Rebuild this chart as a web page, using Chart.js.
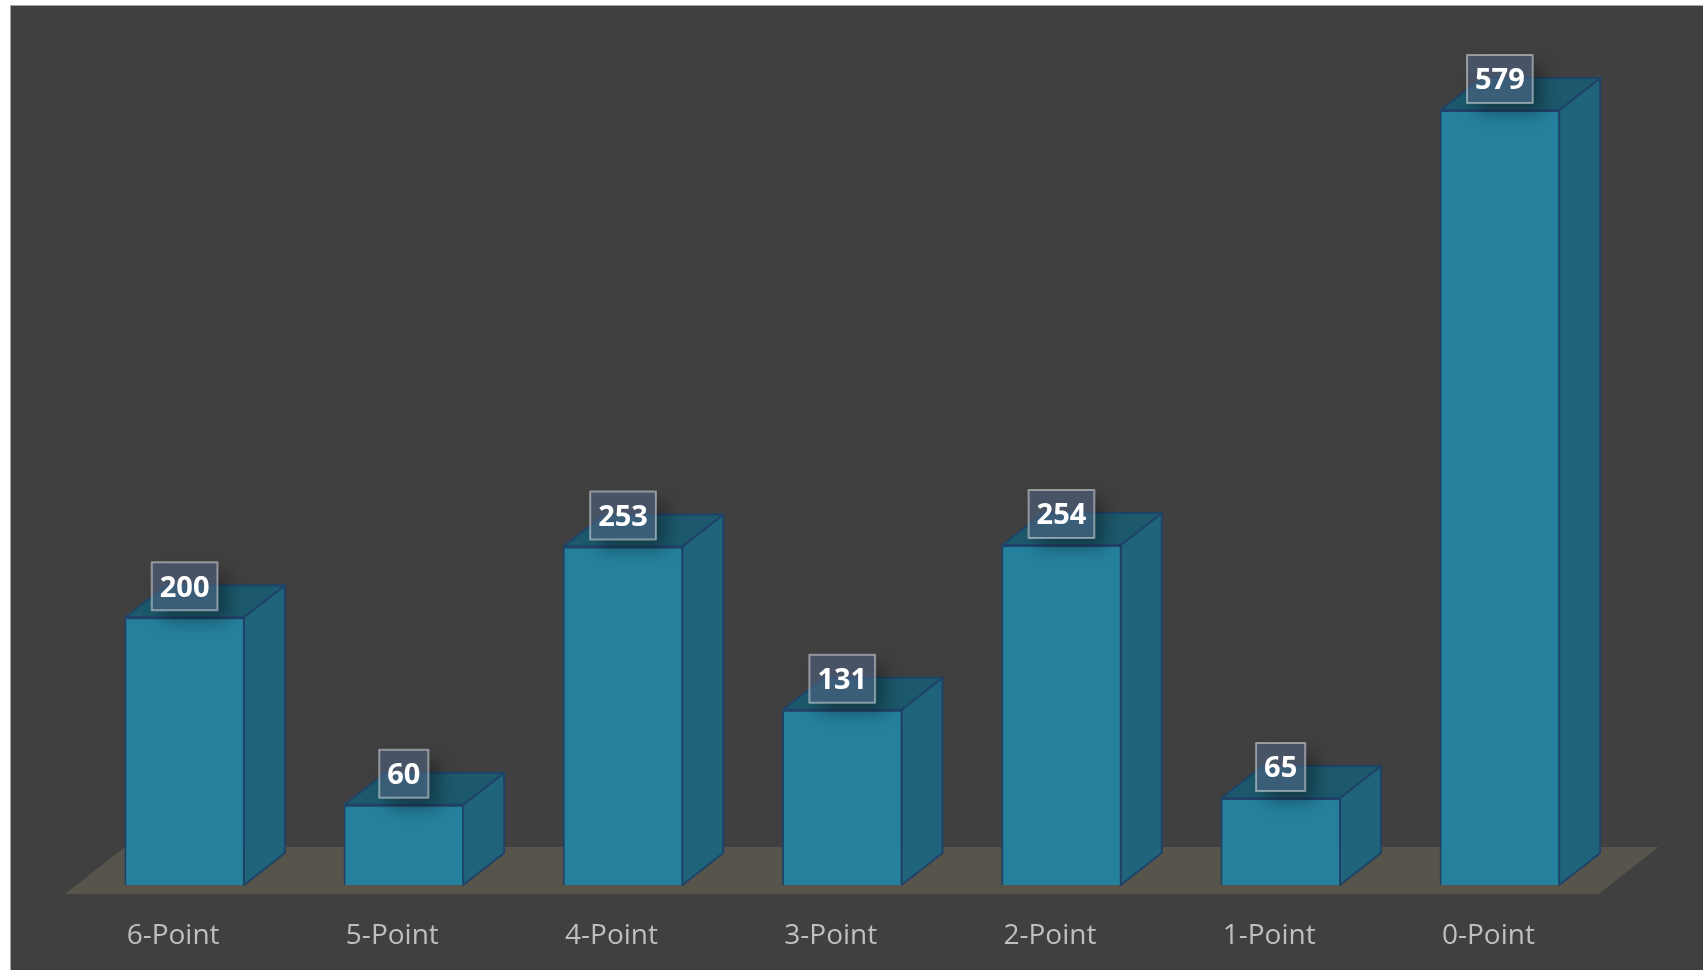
<!DOCTYPE html>
<html>
<head>
<meta charset="utf-8">
<title>Points chart</title>
<script src="https://cdn.jsdelivr.net/npm/chart.js@4"></script>
<style>
  html, body { margin: 0; padding: 0; background: #fff; overflow: hidden; }
  #panel { position: absolute; left: 10px; top: 5px; right: 0; bottom: 0; background: #404040;
           border-left: 1px solid #a6a6a6; border-top: 1px solid #a6a6a6; }
  #chart { position: absolute; left: 0; top: 0; }
</style>
</head>
<body>
<div id="panel"></div>
<canvas id="chart" width="1703" height="970"></canvas>
<script>
const categories = ['6-Point', '5-Point', '4-Point', '3-Point', '2-Point', '1-Point', '0-Point'];
const values = [200, 60, 253, 131, 254, 65, 579];

const DEPTH_X = 41;
const DEPTH_Y = 32;
const EDGE = '#1f4368';

function poly(ctx, pts, fill, stroke) {
    ctx.beginPath();
    pts.forEach((p, i) => i ? ctx.lineTo(p[0], p[1]) : ctx.moveTo(p[0], p[1]));
    ctx.closePath();
    ctx.fillStyle = fill;
    ctx.fill();
    if (stroke) {
        ctx.strokeStyle = stroke;
        ctx.lineWidth = 2;
        ctx.lineJoin = 'round';
        ctx.stroke();
    }
}

// floor and the top/right faces go in behind the library's bars
const boxes = {
    id: 'boxes',
    beforeDatasetsDraw(chart) {
        const ctx = chart.ctx;
        const zero = chart.scales.y.getPixelForValue(0);
        const left = chart.chartArea.left;
        const right = chart.chartArea.right;

        // floor
        poly(ctx, [[left - 10, zero + 9], [left + 50, zero - 38], [right + 49, zero - 38], [right - 11, zero + 9]], '#57544c');

        chart.getDatasetMeta(0).data.forEach(bar => {
            const x1 = bar.x - bar.width / 2 + 1;
            const x2 = bar.x + bar.width / 2 - 1;
            poly(ctx, [[x2, bar.y], [x2 + DEPTH_X, bar.y - DEPTH_Y], [x2 + DEPTH_X, bar.base - DEPTH_Y], [x2, bar.base]], '#1f647b', EDGE);
            poly(ctx, [[x1, bar.y], [x1 + DEPTH_X, bar.y - DEPTH_Y], [x2 + DEPTH_X, bar.y - DEPTH_Y], [x2, bar.y]], '#1c596c', EDGE);
        });
    },
    // value tags with their soft shadow
    afterDatasetsDraw(chart) {
        const ctx = chart.ctx;
        ctx.save();
        ctx.font = 'bold 29px "Open Sans"';
        ctx.textAlign = 'center';
        ctx.textBaseline = 'middle';
        chart.getDatasetMeta(0).data.forEach((bar, i) => {
            const label = String(values[i]);
            const w = ctx.measureText(label).width + 16;
            const h = 48;
            const cy = bar.y - 31;
            const bx = bar.x - w / 2;
            const by = cy - h / 2;

            // shadow only outside the tag, it sits behind a see-through fill
            ctx.save();
            ctx.beginPath();
            ctx.rect(0, 0, chart.width, chart.height);
            ctx.rect(bx, by, w, h);
            ctx.clip('evenodd');
            ctx.shadowColor = 'rgba(0,0,0,0.35)';
            ctx.shadowBlur = 18;
            ctx.shadowOffsetX = 10;
            ctx.shadowOffsetY = 10;
            ctx.fillStyle = '#000';
            ctx.fillRect(bx, by, w, h);
            ctx.restore();

            ctx.fillStyle = 'rgba(78,98,128,0.6)';
            ctx.fillRect(bx, by, w, h);
            ctx.strokeStyle = 'rgba(255,255,255,0.45)';
            ctx.lineWidth = 2;
            ctx.strokeRect(bx, by, w, h);
            ctx.fillStyle = '#fff';
            ctx.fillText(label, bar.x, cy + 2);
        });
        ctx.restore();
    }
};

new Chart(document.getElementById('chart'), {
    type: 'bar',
    data: {
        labels: categories,
        datasets: [{
            data: values,
            backgroundColor: '#25809e',
            borderColor: EDGE,
            borderWidth: 2,
            barPercentage: 0.55,
            categoryPercentage: 1
        }]
    },
    options: {
        responsive: false,
        animation: false,
        layout: { padding: { left: 75, right: 93.5, top: 82, bottom: 0 } },
        plugins: { legend: { display: false }, tooltip: { enabled: false } },
        scales: {
            x: {
                afterFit(scale) { scale.height = 85; },
                grid: { display: false, drawTicks: false },
                border: { display: false },
                ticks: {
                    color: '#bfbfbf',
                    font: { family: '"Open Sans"', size: 28 },
                    padding: 34,
                    labelOffset: -11.5,
                    maxRotation: 0
                }
            },
            y: { display: false, min: 0, max: 600 }
        }
    },
    plugins: [boxes]
});
</script>
</body>
</html>
